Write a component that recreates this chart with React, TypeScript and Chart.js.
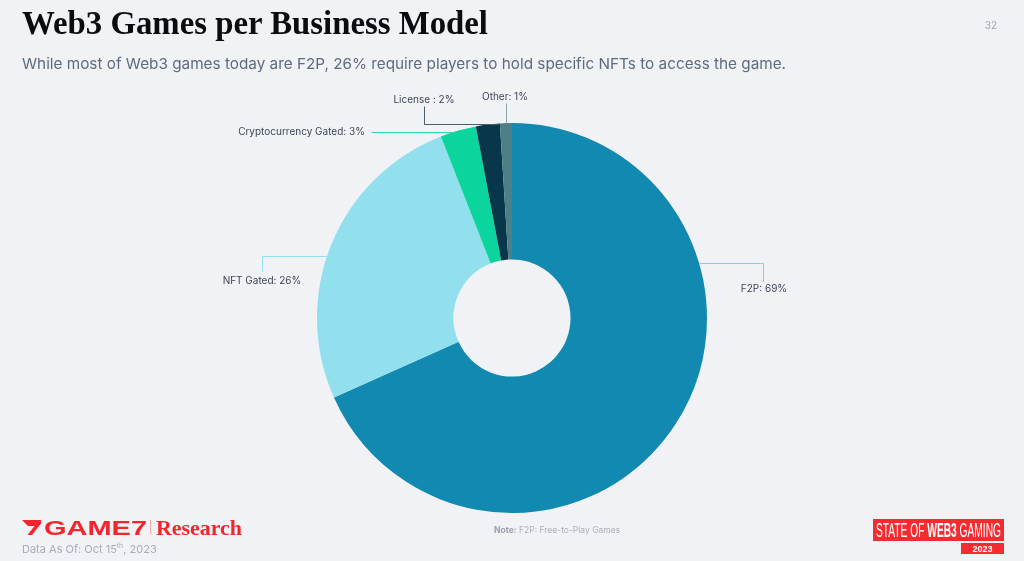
import React, { useEffect, useRef } from "react";
import { Chart, registerables } from "chart.js";

Chart.register(...registerables);

// ---- data ----
const CATEGORIES = ["F2P", "NFT Gated", "Cryptocurrency Gated", "License", "Other"];
const VALUES = [69, 26, 3, 2, 1];
const SLICE_LABELS = ["F2P: 69%", "NFT Gated: 26%", "Cryptocurrency Gated: 3%", "License : 2%", "Other: 1%"];
const COLORS = ["#1289B1", "#92DFEE", "#0BD59D", "#08364A", "#4E7F87"];

const BG = "#F1F2F6";

// leader-line layout, offsets relative to the doughnut centre (px)
type Layout = {
  path: [number, number][];
  end: "left" | "right" | "top" | [number, number];
  text: [number, number];
  align: CanvasTextAlign;
  lineColor: string;
};
const LABEL_LAYOUT: Layout[] = [
  { path: [[251, -37], [251, -55]], end: "right", text: [252, -29], align: "center", lineColor: "#93C9DC" },
  { path: [[-250, -47], [-250, -62]], end: "left", text: [-250, -37], align: "center", lineColor: "#92DFEE" },
  { path: [[-141, -186]], end: "left", text: [-147, -186], align: "right", lineColor: "#2FD9A8" },
  { path: [[-88, -212], [-88, -194]], end: [-14, -194], text: [-88, -218], align: "center", lineColor: "#4B5D6B" },
  { path: [[-6, -215]], end: "top", text: [-7, -221], align: "center", lineColor: "#8FA5AA" },
];

const leaderPlugin = {
  id: "leaders",
  afterDatasetsDraw(chart: any) {
    const meta = chart.getDatasetMeta(0);
    const a0: any = meta.data[0];
    if (!a0) return;
    const cx = a0.x;
    const cy = a0.y;
    const r = a0.outerRadius;
    const ctx: CanvasRenderingContext2D = chart.ctx;
    ctx.save();
    LABEL_LAYOUT.forEach((lay, i) => {
      const pts = lay.path.map(([dx, dy]) => [cx + dx, cy + dy]);
      const last = lay.path[lay.path.length - 1];
      let endPt: number[];
      if (lay.end === "left") endPt = [cx - Math.sqrt(r * r - last[1] * last[1]), cy + last[1]];
      else if (lay.end === "right") endPt = [cx + Math.sqrt(r * r - last[1] * last[1]), cy + last[1]];
      else if (lay.end === "top") endPt = [cx + last[0], cy - Math.sqrt(r * r - last[0] * last[0])];
      else endPt = [cx + lay.end[0], cy + lay.end[1]];
      pts.push(endPt);
      ctx.beginPath();
      ctx.strokeStyle = lay.lineColor;
      ctx.lineWidth = 1;
      pts.forEach((p, k) => {
        const x = Math.round(p[0]) + 0.5;
        const y = Math.round(p[1]) + 0.5;
        if (k === 0) ctx.moveTo(x, y);
        else ctx.lineTo(x, y);
      });
      ctx.stroke();
      ctx.font = "10px Inter, 'Noto Sans', sans-serif";
      ctx.fillStyle = "#3D4656";
      ctx.textAlign = lay.align;
      ctx.textBaseline = "middle";
      ctx.fillText(SLICE_LABELS[i], cx + lay.text[0], cy + lay.text[1]);
    });
    ctx.restore();
  },
};

export default function App() {
  const ref = useRef<HTMLCanvasElement | null>(null);
  useEffect(() => {
    document.body.style.margin = "0";
    document.body.style.background = BG;
    if (!ref.current) return;
    const chart = new Chart(ref.current, {
      type: "doughnut",
      data: {
        labels: CATEGORIES,
        datasets: [
          {
            data: VALUES,
            backgroundColor: COLORS,
            borderWidth: 0,
          },
        ],
      },
      options: {
        responsive: false,
        animation: false,
        cutout: "30%",
        layout: { padding: { left: 317, right: 317, top: 123, bottom: 48 } },
        plugins: {
          legend: { display: false },
          tooltip: { enabled: false },
        },
      },
      plugins: [leaderPlugin],
    });
    return () => chart.destroy();
  }, []);

  const red = "#F2262E";
  return (
    <div style={{ position: "fixed", left: 0, top: 0, width: 1024, height: 561, background: BG, overflow: "hidden" }}>
      <canvas ref={ref} width={1024} height={561} style={{ position: "absolute", left: 0, top: 0, width: 1024, height: 561 }} />
      <svg width={1024} height={561} style={{ position: "absolute", left: 0, top: 0, pointerEvents: "none" }}>
        <text x={22} y={34} fontFamily="'Liberation Serif', serif" fontWeight="bold" fontSize={33} fill="#0B0C10" textLength={466} lengthAdjust="spacingAndGlyphs">
          Web3 Games per Business Model
        </text>
        <text x={22} y={69} fontFamily="Inter, sans-serif" fontSize={15} fill="#5E6B7D" textLength={764} lengthAdjust="spacingAndGlyphs">
          While most of Web3 games today are F2P, 26% require players to hold specific NFTs to access the game.
        </text>
        <text x={997} y={29} fontFamily="Inter, sans-serif" fontSize={10} fill="#A0A5AF" textAnchor="end">
          32
        </text>
        {/* footer: logo */}
        <polygon points="22,520 41,520 41,523.5 32,535 27.5,535 34.5,526 28,526" fill={red} />
        <text x={44} y={535} fontFamily="'Liberation Sans', Arial, sans-serif" fontWeight="bold" fontSize={21} fill={red} textLength={103} lengthAdjust="spacingAndGlyphs">
          GAME7
        </text>
        <line x1={150.5} y1={520} x2={150.5} y2={534} stroke="#F4A9AC" strokeWidth={1} />
        <text x={156} y={535} fontFamily="'Liberation Serif', serif" fontWeight="bold" fontSize={22} fill={red} textLength={86} lengthAdjust="spacingAndGlyphs">
          Research
        </text>
        <text x={22} y={553} fontFamily="Inter, sans-serif" fontSize={11} fill="#A6ADBA">
          Data As Of: Oct 15<tspan fontSize={7} dy={-5}>th</tspan>
          <tspan dy={5}>, 2023</tspan>
        </text>
        {/* note */}
        <text x={494} y={533} fontFamily="Inter, sans-serif" fontSize={8.5} fill="#A9AFBA">
          <tspan fontWeight="bold" fill="#9AA1AE">Note:</tspan> F2P: Free-to-Play Games
        </text>
        {/* badge */}
        <rect x={873} y={519} width={131} height={22} fill="#F42B2F" />
        <text x={876} y={537} fontFamily="'Liberation Sans', Arial, sans-serif" fontSize={20} fill="#FFFFFF" textLength={125} lengthAdjust="spacingAndGlyphs">
          STATE OF <tspan fontWeight="bold">WEB3</tspan> GAMING
        </text>
        <rect x={961} y={543} width={43} height={11} fill="#F42B2F" />
        <text x={982.5} y={552} fontFamily="'Liberation Sans', Arial, sans-serif" fontWeight="bold" fontSize={9} fill="#FFFFFF" textAnchor="middle">
          2023
        </text>
      </svg>
    </div>
  );
}
